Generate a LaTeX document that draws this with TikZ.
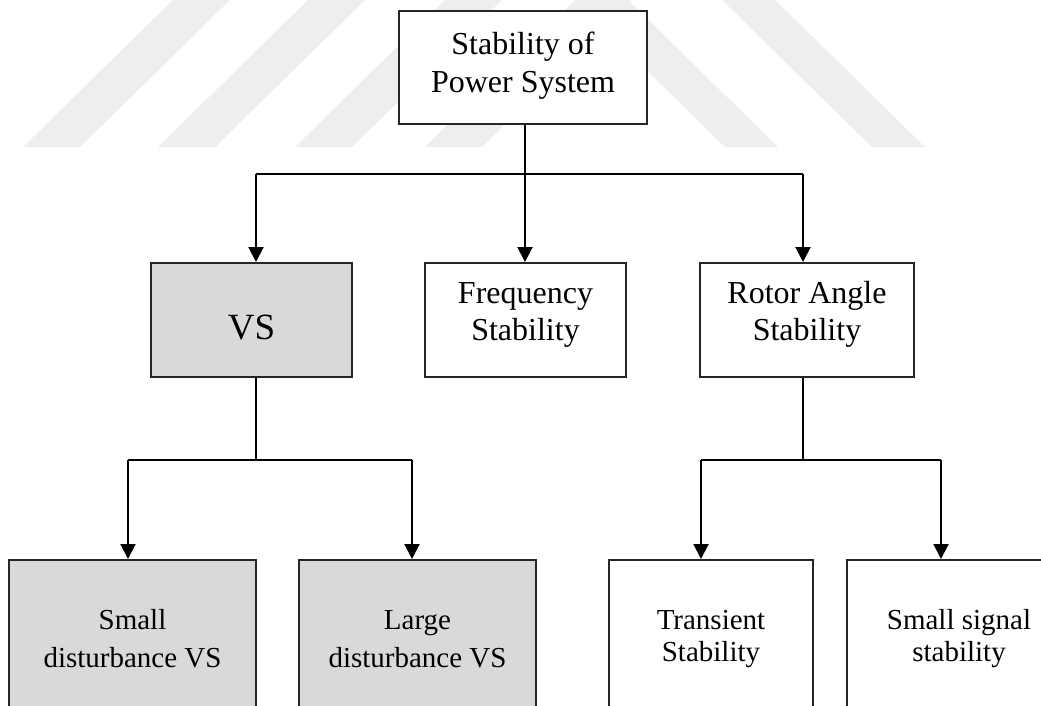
\documentclass[tikz,border=0pt]{standalone}
\usepackage{fontspec}
\setmainfont{Liberation Serif}
\usetikzlibrary{arrows.meta}
\definecolor{boxgray}{HTML}{D9D9D9}
\definecolor{wmgray}{HTML}{EEEEEE}
\begin{document}
\begin{tikzpicture}[x=1pt,y=-1pt,
  box/.style={draw=black!85, line width=2pt, inner sep=0pt, align=center, fill=white},
  graybox/.style={box, fill=boxgray},
  conn/.style={line width=2pt, black},
  arr/.style={conn, -{Triangle[width=15pt,length=15pt]}},
  lbl/.style={align=center, inner sep=0pt},
  topf/.style={lbl, font=\fontsize{32}{38}\selectfont, yshift=1.5pt},
  mid/.style={lbl, font=\fontsize{32}{37}\selectfont, yshift=5.5pt},
  low/.style={font=\fontsize{29}{38}\selectfont},
  lowt/.style={font=\fontsize{29}{32}\selectfont},
  wm/.style={fill=wmgray}]
\useasboundingbox (0,0) rectangle (1041,706);
\clip (0,0) rectangle (1041,706);
\fill[white] (0,0) rectangle (1041,706);
% faint watermark stripes
\fill[wm] (23,147) -- (80,147) -- (230,0) -- (173,0) -- cycle;
\fill[wm] (158,147) -- (215,147) -- (365,0) -- (308,0) -- cycle;
\fill[wm] (295,147) -- (352,147) -- (502,0) -- (445,0) -- cycle;
\fill[wm] (425,147) -- (482,147) -- (632,0) -- (575,0) -- cycle;
\fill[wm] (575,0) -- (628,0) -- (778,147) -- (725,147) -- cycle;
\fill[wm] (722,0) -- (775,0) -- (925,147) -- (872,147) -- cycle;
% boxes
\node[box, minimum width=248pt, minimum height=113pt,
      label={[topf]center:Stability of\\Power System}] (top) at (523,67.5) {};
\node[graybox, minimum width=201pt, minimum height=114pt,
      label={[lbl, font=\fontsize{37}{40}\selectfont, yshift=-8pt]center:VS}] (vs) at (251.5,320) {};
\node[box, minimum width=201pt, minimum height=114pt,
      label={[mid]center:Frequency\\Stability}] (freq) at (525.5,320) {};
\node[box, minimum width=214pt, minimum height=114pt,
      label={[mid]center:Rotor Angle\\Stability}] (rotor) at (807,320) {};
\node[graybox, minimum width=247pt, minimum height=158pt, low] (sd) at (132.5,639) {Small\\disturbance VS};
\node[graybox, minimum width=237pt, minimum height=158pt, low] (ld) at (417.5,639) {Large\\disturbance VS};
\node[box, minimum width=204pt, minimum height=158pt, lowt] (ts) at (711,639) {Transient\\Stability};
\node[box, minimum width=224pt, minimum height=158pt, lowt] (ss) at (959,639) {Small signal\\stability};
% junctions
\coordinate (j0) at (525,174);
\coordinate (jl) at (256,174);
\coordinate (jr) at (803,174);
\coordinate (k0) at (256,460);
\coordinate (kl) at (128,460);
\coordinate (kr) at (412,460);
\coordinate (m0) at (803,460);
\coordinate (ml) at (701,460);
\coordinate (mr) at (941,460);
% connectors
\draw[conn] (top.south -| j0) -- (j0);
\draw[conn] (jl) -- (jr);
\draw[arr] (jl) -- (jl |- vs.north);
\draw[arr] (j0) -- (j0 |- freq.north);
\draw[arr] (jr) -- (jr |- rotor.north);
\draw[conn] (vs.south -| k0) -- (k0);
\draw[conn] (kl) -- (kr);
\draw[arr] (kl) -- (kl |- sd.north);
\draw[arr] (kr) -- (kr |- ld.north);
\draw[conn] (rotor.south -| m0) -- (m0);
\draw[conn] (ml) -- (mr);
\draw[arr] (ml) -- (ml |- ts.north);
\draw[arr] (mr) -- (mr |- ss.north);
\end{tikzpicture}
\end{document}
